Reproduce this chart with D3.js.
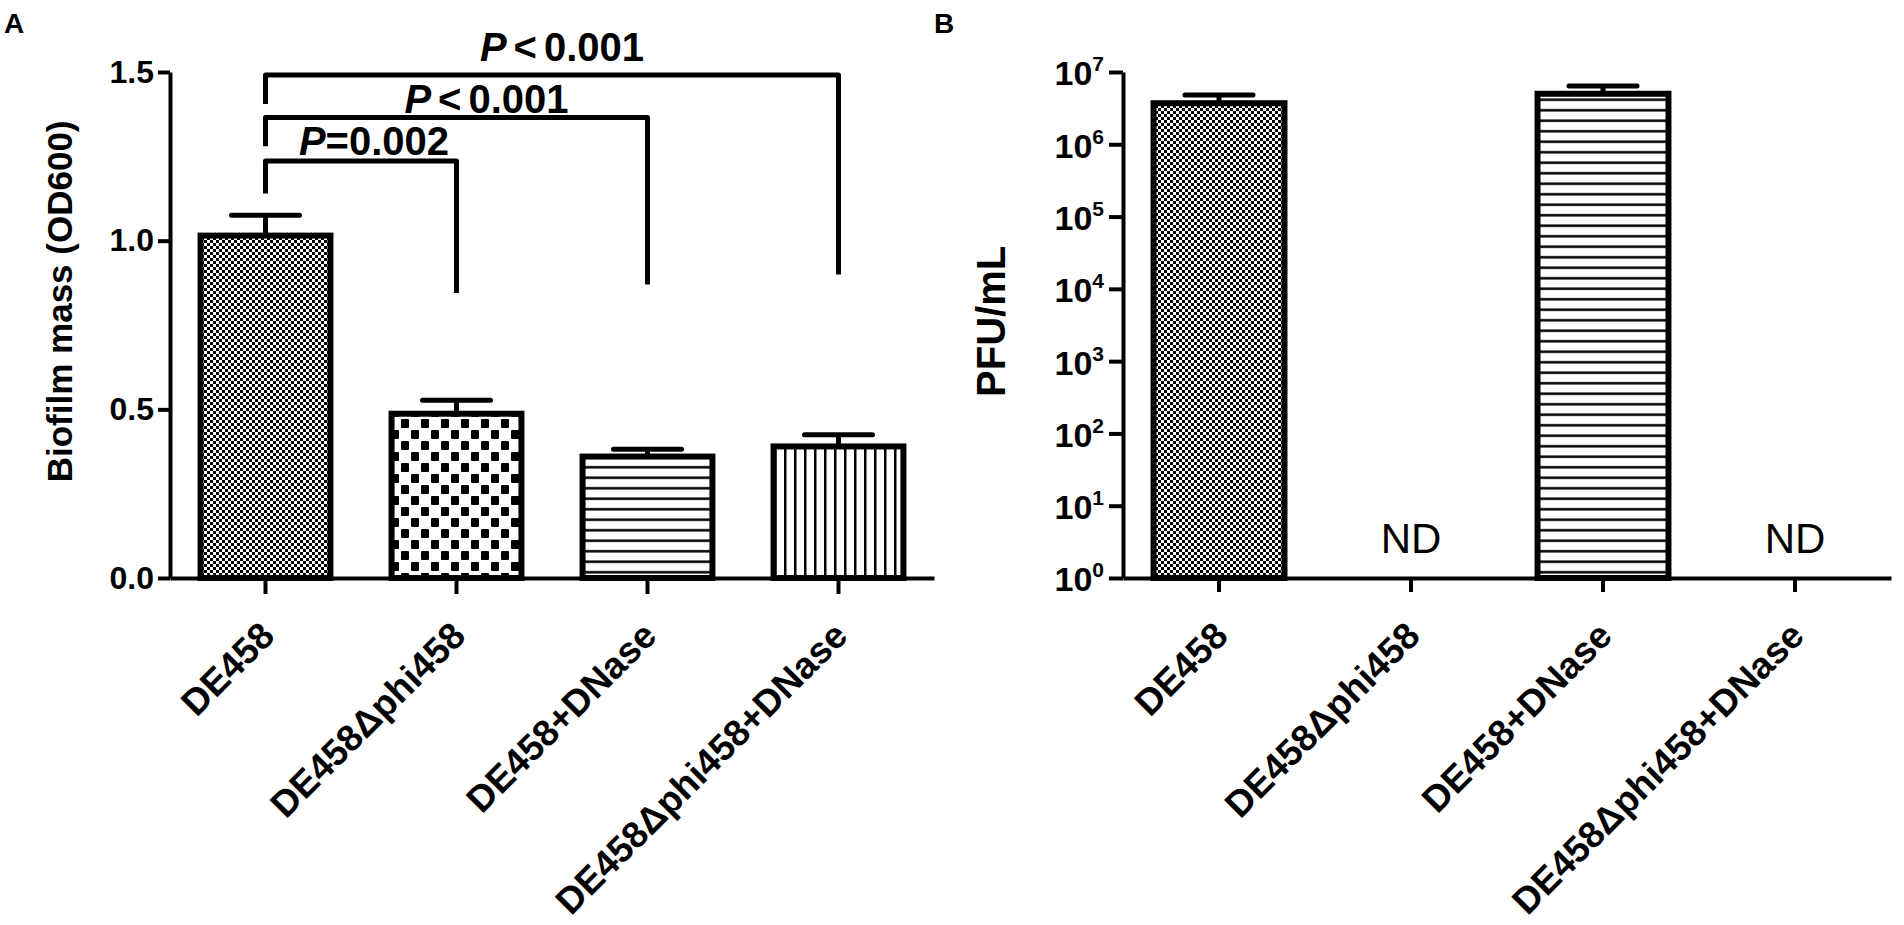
<!DOCTYPE html>
<html>
<head>
<meta charset="utf-8">
<title>Biofilm mass and PFU</title>
<script src="https://d3js.org/d3.v7.min.js"></script>
<style>
  body { margin: 0; background: #fff; }
  svg { display: block; font-family: 'Liberation Sans', Arial, sans-serif; }
  .axis path, .axis line { stroke: #000; stroke-width: 4px; }
  .axis text { fill: #000; font-weight: bold; }
  .bar { stroke: #000; stroke-width: 6px; }
  .err { stroke: #000; stroke-width: 5px; fill: none; stroke-linecap: round; }
  .bracket { stroke: #000; stroke-width: 5px; fill: none; stroke-linecap: butt; stroke-linejoin: round; }
</style>
</head>
<body>
<svg id="fig" width="1904" height="925"></svg>
<script>
// ---- data ----
const groups = ['DE458', 'DE458\u0394phi458', 'DE458+DNase', 'DE458\u0394phi458+DNase'];
const patterns = ['fine', 'checker', 'hstripe', 'vstripe'];

// panel A: biofilm mass (OD600), mean and SEM
const biofilm = [1.015, 0.487, 0.36, 0.39];
const biofilmErr = [0.06, 0.04, 0.022, 0.035];
const biofilmTicks = [0, 0.5, 1.0, 1.5];

// significance brackets: from group, to group, label, bracket height, left drop, right drop
const compFrom = [0, 0, 0];
const compTo = [1, 2, 3];
const compText = ['=0.002', '<0.001', '<0.001'];
const compLevel = [1.236, 1.365, 1.491];
const compLeftEnd = [1.14, 1.28, 1.405];
const compRightEnd = [0.845, 0.87, 0.90];

// panel B: PFU/mL, null = not detected
const pfu = [3.7e6, null, 5.0e6, null];
const pfuErr = [1.1e6, null, 1.4e6, null];
const pfuTicks = [1, 10, 100, 1e3, 1e4, 1e5, 1e6, 1e7];

// label placement (px): shift from bracket midpoint, lift above bracket line
const labelShift = [13, 30, 10];
const labelLift = [6, 5, 14];

const svg = d3.select('#fig');
svg.append('rect').attr('width', 1904).attr('height', 925).attr('fill', '#fff');

// ---- fill patterns ----
const defs = svg.append('defs');
let p = defs.append('pattern').attr('id', 'fine').attr('patternUnits', 'userSpaceOnUse')
  .attr('width', 6).attr('height', 6);
p.append('rect').attr('width', 6).attr('height', 6).attr('fill', '#fff');
p.append('rect').attr('width', 3).attr('height', 3).attr('fill', '#000');
p.append('rect').attr('x', 3).attr('y', 3).attr('width', 3).attr('height', 3).attr('fill', '#000');

p = defs.append('pattern').attr('id', 'checker').attr('patternUnits', 'userSpaceOnUse')
  .attr('width', 20).attr('height', 22);
p.append('rect').attr('width', 20).attr('height', 22).attr('fill', '#fff');
p.append('rect').attr('x', 1).attr('y', 1).attr('width', 8).attr('height', 9).attr('rx', 1).attr('fill', '#000');
p.append('rect').attr('x', 11).attr('y', 12).attr('width', 8).attr('height', 9).attr('rx', 1).attr('fill', '#000');

p = defs.append('pattern').attr('id', 'hstripe').attr('patternUnits', 'userSpaceOnUse')
  .attr('width', 10).attr('height', 10.5);
p.append('rect').attr('width', 10).attr('height', 10.5).attr('fill', '#fff');
p.append('rect').attr('y', 4).attr('width', 10).attr('height', 2.5).attr('fill', '#000');

p = defs.append('pattern').attr('id', 'vstripe').attr('patternUnits', 'userSpaceOnUse')
  .attr('width', 10).attr('height', 10);
p.append('rect').attr('width', 10).attr('height', 10).attr('fill', '#fff');
p.append('rect').attr('x', 4).attr('width', 2.5).attr('height', 10).attr('fill', '#000');

// ---- helpers ----
function xAxisLabels(g) {
  g.selectAll('.tick text').remove();
  g.selectAll('.tick').append('text')
    .attr('transform', 'translate(11, 60) rotate(-45)')
    .attr('text-anchor', 'end')
    .attr('font-size', 37)
    .attr('font-weight', 'bold')
    .attr('fill', '#000')
    .text(d => d);
}

function errPath(c, y0, y1) {
  return 'M' + c + ',' + y0 + 'V' + y1 + 'M' + (c - 34) + ',' + y1 + 'H' + (c + 34);
}

// ---- panel A ----
const xA = d3.scaleBand().domain(groups).range([170, 934]).paddingInner(0.32).paddingOuter(0.16);
const yA = d3.scaleLinear().domain([0, 1.5]).range([578, 72]);
const cA = d => xA(d) + xA.bandwidth() / 2;

svg.append('text').attr('x', 4).attr('y', 33).attr('font-size', 28).attr('font-weight', 'bold').text('A');

svg.append('g').attr('class', 'axis')
  .attr('transform', 'translate(170,0)')
  .call(d3.axisLeft(yA).tickValues(biofilmTicks).tickFormat(d3.format('.1f')).tickSize(12).tickSizeOuter(0).tickPadding(4))
  .selectAll('text').attr('font-size', 32);

svg.append('g').attr('class', 'axis')
  .attr('transform', 'translate(0,578)')
  .call(d3.axisBottom(xA).tickSize(16).tickSizeOuter(0))
  .call(xAxisLabels);

svg.append('text')
  .attr('transform', 'translate(72,' + yA(0.82) + ') rotate(-90)')
  .attr('text-anchor', 'middle').attr('font-size', 35).attr('font-weight', 'bold')
  .text('Biofilm mass (OD600)');

svg.append('g').selectAll('rect').data(groups).join('rect')
  .attr('class', 'bar')
  .attr('x', d => xA(d)).attr('width', xA.bandwidth())
  .attr('y', (d, i) => yA(biofilm[i])).attr('height', (d, i) => yA(0) - yA(biofilm[i]))
  .attr('fill', (d, i) => 'url(#' + patterns[i] + ')');

svg.append('g').selectAll('path').data(groups).join('path')
  .attr('class', 'err')
  .attr('d', (d, i) => errPath(cA(d), yA(biofilm[i]), yA(biofilm[i] + biofilmErr[i])));

// brackets
const br = svg.append('g');
compFrom.forEach((f, i) => {
  const x1 = cA(groups[f]), x2 = cA(groups[compTo[i]]), yl = yA(compLevel[i]);
  br.append('path').attr('class', 'bracket')
    .attr('d', 'M' + x1 + ',' + yA(compLeftEnd[i]) + 'V' + yl + 'H' + x2 + 'V' + yA(compRightEnd[i]));
  const t = br.append('text')
    .attr('x', (x1 + x2) / 2 + labelShift[i]).attr('y', yl - labelLift[i])
    .attr('text-anchor', 'middle').attr('font-size', 40).attr('font-weight', 'bold');
  t.append('tspan').attr('font-style', 'italic').text('P');
  if (compText[i][0] === '<') {
    t.append('tspan').attr('dx', 7).text('<');
    t.append('tspan').attr('dx', 7).text(compText[i].slice(1));
  } else {
    t.append('tspan').text(compText[i]);
  }
});

// ---- panel B ----
const xB = d3.scaleBand().domain(groups).range([1123, 1891]).paddingInner(0.318).paddingOuter(0.159);
const yB = d3.scaleLog().domain([1, 1e7]).range([578, 72]);
const cB = d => xB(d) + xB.bandwidth() / 2;

svg.append('text').attr('x', 934).attr('y', 33).attr('font-size', 28).attr('font-weight', 'bold').text('B');

const yAxB = svg.append('g').attr('class', 'axis')
  .attr('transform', 'translate(1123,0)')
  .call(d3.axisLeft(yB).tickValues(pfuTicks).tickFormat('').tickSize(14).tickSizeOuter(0));
yAxB.selectAll('.tick').append('text')
  .attr('x', -19).attr('dy', '0.38em').attr('text-anchor', 'end').attr('font-size', 34)
  .each(function (d) {
    const e = Math.round(Math.log10(d));
    d3.select(this).append('tspan').text('10');
    d3.select(this).append('tspan').attr('dy', -14).attr('font-size', 21).text(e);
  });

svg.append('g').attr('class', 'axis')
  .attr('transform', 'translate(0,578)')
  .call(d3.axisBottom(xB).tickSize(14).tickSizeOuter(0))
  .call(xAxisLabels);

svg.append('text')
  .attr('transform', 'translate(1005,' + yB(Math.pow(10, 3.55)) + ') rotate(-90)')
  .attr('text-anchor', 'middle').attr('font-size', 40).attr('font-weight', 'bold')
  .text('PFU/mL');

const detected = groups.filter((d, i) => pfu[i] != null);
svg.append('g').selectAll('rect').data(detected).join('rect')
  .attr('class', 'bar')
  .attr('x', d => xB(d)).attr('width', xB.bandwidth())
  .attr('y', d => yB(pfu[groups.indexOf(d)]))
  .attr('height', d => yB(1) - yB(pfu[groups.indexOf(d)]))
  .attr('fill', d => 'url(#' + patterns[groups.indexOf(d)] + ')');

svg.append('g').selectAll('path').data(detected).join('path')
  .attr('class', 'err')
  .attr('d', d => {
    const i = groups.indexOf(d);
    return errPath(cB(d), yB(pfu[i]), yB(pfu[i] + pfuErr[i]));
  });

svg.append('g').selectAll('text').data(groups.filter((d, i) => pfu[i] == null)).join('text')
  .attr('x', d => cB(d)).attr('y', 553)
  .attr('text-anchor', 'middle').attr('font-size', 42)
  .text('ND');
</script>
</body>
</html>
